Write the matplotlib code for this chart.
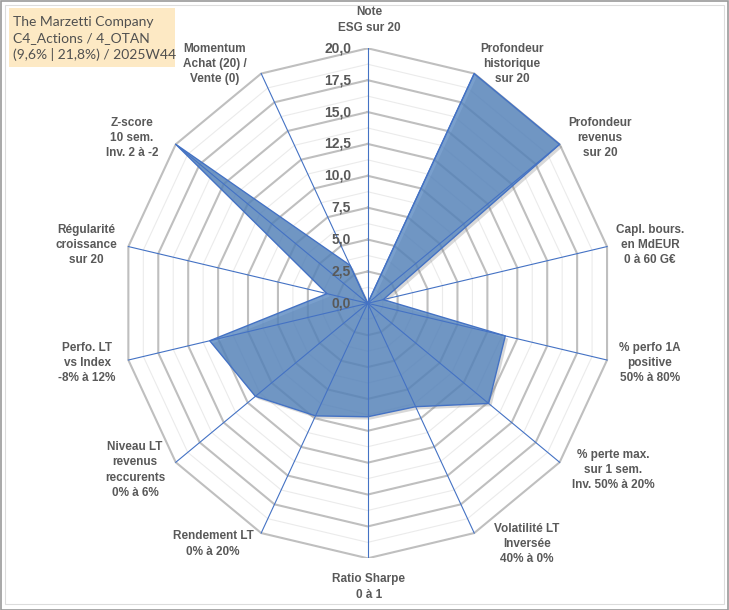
import matplotlib.pyplot as plt
import matplotlib.patheffects as pe
from matplotlib.patches import Rectangle
import numpy as np

plt.rcParams['font.family'] = ['Liberation Sans', 'DejaVu Sans']

# axes of the radar (clockwise from the top)
labels = [
    'Note\nESG sur 20',
    'Profondeur\nhistorique\nsur 20',
    'Profondeur\nrevenus\nsur 20',
    'Capl. bours.\nen MdEUR\n0 à 60 G€',
    '% perfo 1A\npositive\n50% à 80%',
    '% perte max.\nsur 1 sem.\nInv. 50% à 20%',
    'Volatilité LT\nInversée\n40% à 0%',
    'Ratio Sharpe\n0 à 1',
    'Rendement LT\n0% à 20%',
    'Niveau LT\nrevenus\nreccurents\n0% à 6%',
    'Perfo. LT\nvs Index\n-8% à 12%',
    'Régularité\ncroissance\nsur 20',
    'Z-score\n10 sem.\nInv. 2 à -2',
    'Momentum\nAchat (20) /\nVente (0)',
]
scores = [0, 20, 20, 1.3, 11.5, 12.6, 9.0, 8.9, 9.8, 11.7, 13.2, 3.4, 20, 3.3]
r_max = 20
major_ticks = [0, 2.5, 5, 7.5, 10, 12.5, 15, 17.5, 20]
title_lines = ['The Marzetti Company', 'C4_Actions / 4_OTAN', '(9,6% | 21,8%) / 2025W44']

# label block centres in pixels (x, y from top)
label_pos = [(369, 20), (512, 64), (600, 138), (650, 245), (650, 363), (613, 470),
             (527, 544), (369, 587), (213, 544), (135, 470), (87, 363), (86, 245),
             (132, 138), (215, 64)]

W, H = 729, 610
fig = plt.figure(figsize=(W / 100, H / 100), dpi=100)
cx, cy, rx, ry = 367.7, 303.3, 245.5, 255
ax = fig.add_axes([(cx - rx) / W, (H - cy - ry) / H, 2 * rx / W, 2 * ry / H])
ax.set_xlim(-r_max, r_max)
ax.set_ylim(-r_max, r_max)
ax.axis('off')

n = len(labels)
theta = np.arange(n) * 2 * np.pi / n
ang = np.append(theta, theta[0])

def polar_xy(r, t):
    return np.asarray(r) * np.sin(t), np.asarray(r) * np.cos(t)

# minor and major polygon grid
for r in np.arange(1.25, r_max, 2.5):
    x, y = polar_xy(np.full(n + 1, r), ang)
    ax.plot(x, y, color='#ebebeb', lw=0.8, zorder=1)
for r in major_ticks[1:]:
    x, y = polar_xy(np.full(n + 1, r), ang)
    ax.plot(x, y, color='#bfbfbf', lw=1.5, zorder=2)

# data area
vals = np.append(scores, scores[0])
x, y = polar_xy(vals, ang)
ax.fill(x, y, facecolor='#4f81bd', alpha=0.76, edgecolor='none', zorder=3,
        path_effects=[pe.SimplePatchShadow(offset=(2, -2), shadow_rgbFace='#808080', alpha=0.3),
                      pe.Normal()])
ax.plot(x, y, color='#4472c4', lw=1.0, zorder=4)

# spokes
for t in theta:
    x, y = polar_xy([0, r_max], [t, t])
    ax.plot(x, y, color='#4472c4', lw=0.8, zorder=5)

# radial tick labels
for v in major_ticks:
    ax.text(-1.36, v, f'{v:.1f}'.replace('.', ','), ha='right', va='center',
            fontsize=10, fontweight='bold', color='#595959', zorder=6)

# axis labels
for lab, (px, py) in zip(labels, label_pos):
    fig.text(px / W, 1 - py / H, lab, ha='center', va='center', fontsize=8.5,
             fontweight='bold', color='#595959', linespacing=1.35)

# title box
fig.patches.append(Rectangle((9 / W, 1 - 67 / H), 166 / W, 59 / H, transform=fig.transFigure,
                             facecolor='#fde9c4', edgecolor='none', zorder=0))
fig.text(13 / W, 1 - 38.5 / H, '\n'.join(title_lines), ha='left', va='center',
         fontsize=10, color='#505050', linespacing=1.42, family=['Lato', 'DejaVu Sans'])

# frame
fig.patches.append(Rectangle((0.5 / W, 0.5 / H), (W - 1.5) / W, (H - 1.5) / H, transform=fig.transFigure,
                             facecolor='none', edgecolor='#9a9a9a', lw=1.2))
fig.patches.append(Rectangle((5 / W, 6 / H), (W - 10) / W, (H - 11) / H, transform=fig.transFigure,
                             facecolor='none', edgecolor='#dcdcdc', lw=0.8))

fig.savefig('out.png', dpi=100)
